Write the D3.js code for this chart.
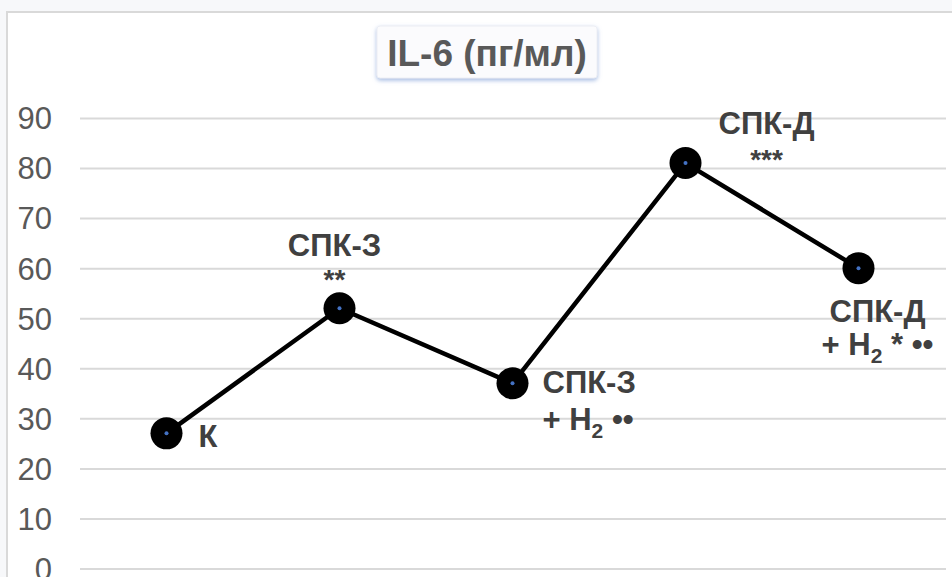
<!DOCTYPE html>
<html>
<head>
<meta charset="utf-8">
<script src="https://cdn.jsdelivr.net/npm/d3@7"></script>
<style>
  html, body { margin: 0; padding: 0; background: #f7f8fa; }
  svg { display: block; }
</style>
</head>
<body>
<svg id="chart" width="952" height="577"></svg>
<script>
// IL-6 levels per group
const groups = ["К", "СПК-З", "СПК-З + H2", "СПК-Д", "СПК-Д + H2"];
const values = [27, 52, 37, 81, 60];
const yTicks = [0, 10, 20, 30, 40, 50, 60, 70, 80, 90];
const chartTitle = "IL-6 (пг/мл)";

const W = 952, H = 577;
const svg = d3.select("#chart");
const FONT = "'Liberation Sans', Arial, sans-serif";

// card
svg.append("rect")
  .attr("x", 7).attr("y", 12).attr("width", W).attr("height", H)
  .attr("fill", "#ffffff").attr("stroke", "#d9d9d9").attr("stroke-width", 2);

const plot = { left: 80, right: 945, top: 118, bottom: 568.5 };

const x = d3.scaleBand().domain(groups).range([plot.left, plot.right]).padding(0);
const y = d3.scaleLinear().domain([0, 90]).range([plot.bottom, plot.top]);

// gridlines + y axis labels
const yAxis = d3.axisLeft(y).tickValues(yTicks).tickSize(-(plot.right - plot.left + 1)).tickPadding(28);
const gy = svg.append("g").attr("transform", `translate(${plot.left},0)`).call(yAxis);
gy.select(".domain").remove();
gy.selectAll(".tick line").attr("stroke", "#d9d9d9").attr("stroke-width", 2);
gy.selectAll(".tick text")
  .attr("fill", "#595959").attr("font-family", FONT).attr("font-size", 31)
  .attr("dy", "0.35em");

// title box
const defs = svg.append("defs");
const f = defs.append("filter").attr("id", "shadow").attr("x", "-10%").attr("y", "-20%").attr("width", "120%").attr("height", "150%");
f.append("feGaussianBlur").attr("in", "SourceAlpha").attr("stdDeviation", 2);
f.append("feOffset").attr("dx", 0).attr("dy", 2).attr("result", "b");
f.append("feFlood").attr("flood-color", "#8faadc").attr("flood-opacity", 0.8);
f.append("feComposite").attr("in2", "b").attr("operator", "in");
const m = f.append("feMerge");
m.append("feMergeNode");
m.append("feMergeNode").attr("in", "SourceGraphic");

svg.append("rect")
  .attr("x", 377).attr("y", 26).attr("width", 220).attr("height", 52).attr("rx", 3)
  .attr("fill", "#fbfbfd").attr("stroke", "#eceef4").attr("stroke-width", 1)
  .attr("filter", "url(#shadow)");
svg.append("text")
  .attr("x", 487).attr("y", 66).attr("text-anchor", "middle")
  .attr("font-family", FONT).attr("font-weight", "bold").attr("font-size", 37)
  .attr("fill", "#595959").text(chartTitle);

// line
const cx = d => x(d) + x.bandwidth() / 2;
const pts = groups.map((g, i) => [cx(g), y(values[i])]);
svg.append("path")
  .attr("d", d3.line()(pts))
  .attr("fill", "none").attr("stroke", "#000").attr("stroke-width", 4.5)
  .attr("stroke-linejoin", "round");

// markers
svg.selectAll("circle.mk").data(pts).enter().append("circle")
  .attr("cx", d => d[0]).attr("cy", d => d[1]).attr("r", 16).attr("fill", "#000");
svg.selectAll("circle.dot").data(pts).enter().append("circle")
  .attr("cx", d => d[0]).attr("cy", d => d[1]).attr("r", 2).attr("fill", "#4472c4");

// data labels
const labels = [
  { lines: [{ t: "К", dy: 14 }], dx: 32, anchor: "start" },
  { lines: [{ t: "СПК-З", dy: -52 }, { t: "**", dy: -19, small: true }], dx: -5, anchor: "middle" },
  { lines: [{ t: "СПК-З", dy: 10 }, { t: "+ H", sub: "2", tail: " ••", dy: 47 }], dx: 30, anchor: "start" },
  { lines: [{ t: "СПК-Д", dy: -29 }, { t: "***", dy: 6, small: true }], dx: 81, anchor: "middle" },
  { lines: [{ t: "СПК-Д", dy: 54 }, { t: "+ H", sub: "2", tail: " * ••", dy: 87 }], dx: 19, anchor: "middle" }
];

labels.forEach((lab, i) => {
  const [px, py] = pts[i];
  lab.lines.forEach(ln => {
    const txt = svg.append("text")
      .attr("x", px + lab.dx).attr("y", py + ln.dy)
      .attr("text-anchor", lab.anchor)
      .attr("font-family", FONT).attr("font-weight", "bold")
      .attr("font-size", ln.small ? 28 : 31)
      .attr("fill", "#404040");
    txt.append("tspan").text(ln.t);
    if (ln.sub) {
      txt.append("tspan").attr("font-size", 21).attr("dy", 8).text(ln.sub);
      txt.append("tspan").attr("dy", -8).text(ln.tail);
    }
  });
});
</script>
</body>
</html>
